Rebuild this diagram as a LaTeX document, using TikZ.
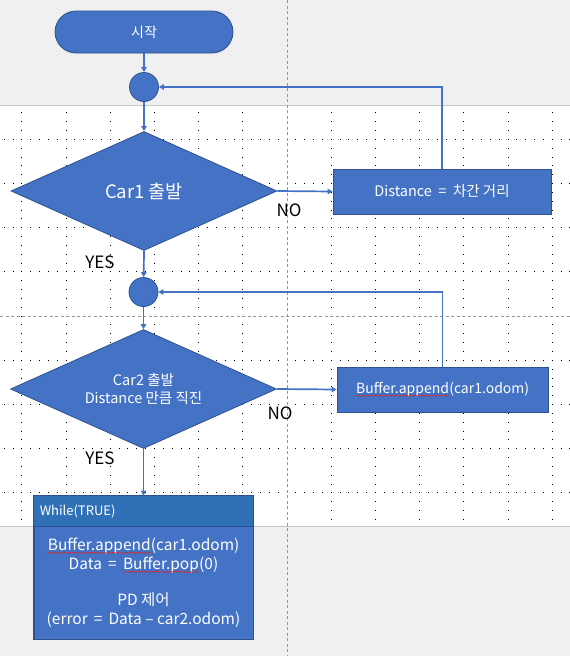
\documentclass[tikz,border=0pt]{standalone}
\usepackage{fontspec}
\setmainfont{Noto Sans CJK KR}
\usetikzlibrary{arrows.meta,shapes.geometric,decorations.pathmorphing,calc}

\definecolor{shapefill}{RGB}{68,114,196}
\definecolor{shapeedge}{RGB}{47,82,143}
\definecolor{headfill}{RGB}{46,112,182}
\definecolor{canvasgray}{RGB}{240,240,240}
\definecolor{guidegray}{RGB}{150,150,150}
\definecolor{spellred}{RGB}{220,40,40}

% spell-check style wavy underline under a word
\newcommand\wavyword[1]{\tikz[baseline=(w.base)]{%
  \node[rectangle,inner sep=0pt,outer sep=0pt,minimum width=0pt,minimum height=0pt,
        draw=none,fill=none] (w) {#1};
  \draw[spellred,line width=0.45pt,decorate,
        decoration={snake,amplitude=0.55pt,segment length=2.2pt}]
    ([yshift=-2pt]w.base west) -- ([yshift=-2pt]w.base east);}}

\tikzset{
  shapebox/.style={draw=shapeedge,fill=shapefill,line width=0.8pt,text=white,inner sep=0pt},
  decision/.style={shapebox,diamond,minimum width=266pt,minimum height=119pt,shape aspect=2.2},
  joint/.style={shapebox,circle,minimum size=29pt},
  conn/.style={draw=shapefill,line width=1.7pt,-{Triangle[length=5pt,width=5.5pt]}},
  lbl/.style={text=black,inner sep=0pt,font=\fontsize{17}{20}\selectfont},
  griddot/.style={black,line width=0.9pt,dash pattern=on 0.9pt off 7.94pt},
  guide/.style={guidegray,line width=0.6pt,dash pattern=on 3pt off 2.5pt}
}

\begin{document}
\begin{tikzpicture}[x=1pt,y=-1pt]
\useasboundingbox (0,0) rectangle (570,656);

% canvas: gray margins around the white slide area
\fill[canvasgray] (0,0) rectangle (570,105.5);
\fill[canvasgray] (0,526) rectangle (570,656);
\draw[gray!45,line width=0.8pt] (0,105.5) -- (570,105.5);
\draw[gray!45,line width=0.8pt] (0,526) -- (570,526);

% dotted grid
\foreach \r in {139.2,183.4,227.6,271.8,360.2,404.4,448.6,492.8}
  \draw[griddot] (3.7,\r) -- (570,\r);
\foreach \c in {21.8,66.0,110.2,154.4,198.6,242.8,331.2,375.4,419.6,463.8,508.0,552.2}
  \draw[griddot] (\c,112.3) -- (\c,526);

% guides
\draw[guide] (287.5,0) -- (287.5,656);
\draw[guide] (0,316) -- (570,316);

% nodes
\node[shapebox,rectangle,rounded corners=21pt,minimum width=178pt,minimum height=42pt,
      font=\fontsize{14}{16}\selectfont] (start) at (144,32) {시작};
\node[joint] (j1) at (144,87) {};
\node[decision,font=\fontsize{18.5}{21}\selectfont] (d1) at (144,191) {Car1 출발};
\node[shapebox,rectangle,minimum width=218pt,minimum height=45pt,
      font=\fontsize{14.5}{16}\selectfont] (dist) at (442,191.5) {Distance\ \ =\ \ 차간 거리};

\node[joint] (j2) at (143.5,292) {};
\node[decision,align=center,font=\fontsize{14.5}{18}\selectfont] (d2) at (143.5,389)
  {Car2 출발\\Distance 만큼 직진};
\node[shapebox,rectangle,minimum width=211pt,minimum height=45pt,
      font=\fontsize{14}{17}\selectfont] (buf) at (442.5,389.5)
  {\wavyword{Buffer.append}(car1.odom)};

% loop block with header band
\node[shapebox,rectangle,minimum width=219pt,minimum height=143pt] (loop) at (143.5,567.5) {};
\fill[headfill,opacity=0.92] (loop.north west) rectangle ($(loop.north east)+(0,31)$);
\draw[shapeedge,line width=1.2pt] ($(loop.north west)+(0,31)$) -- ($(loop.north east)+(0,31)$);
\draw[shapeedge,line width=0.8pt] (loop.north west) rectangle (loop.south east);
\node[text=white,anchor=west,inner sep=0pt,font=\fontsize{13}{15}\selectfont]
  (head) at ($(loop.north west)+(6,16)$) {While(TRUE)};
\node[text=white,align=center,inner sep=0pt,font=\fontsize{15.5}{19}\selectfont]
  (body) at (143.5,583)
  {\wavyword{Buffer.append}(car1.odom)\\
   Data\ \,=\ \,\wavyword{Buffer.pop}(0)\\[17pt]
   PD 제어\\
   (error\ \,=\ \,Data – car2.odom)};

% branch labels
\node[lbl] (yes1) at (100,262) {YES};
\node[lbl] (no1) at (289,210) {NO};
\node[lbl] (yes2) at (100,458) {YES};
\node[lbl] (no2) at (280,413) {NO};

% connectors
\draw[conn] (start) -- (j1);
\draw[conn] (j1) -- (d1);
\draw[conn] (d1.east) -- (dist.west);
\draw[conn] (dist.north) |- (j1.east);
\draw[conn] (d1.south) -- (j2);
\draw[conn] (j2) -- (d2);
\draw[conn] (d2.east) -- (buf.west);
\draw[conn] (buf.north) |- (j2.east);
\draw[conn] (d2.south) -- (loop.north);
\end{tikzpicture}
\end{document}
